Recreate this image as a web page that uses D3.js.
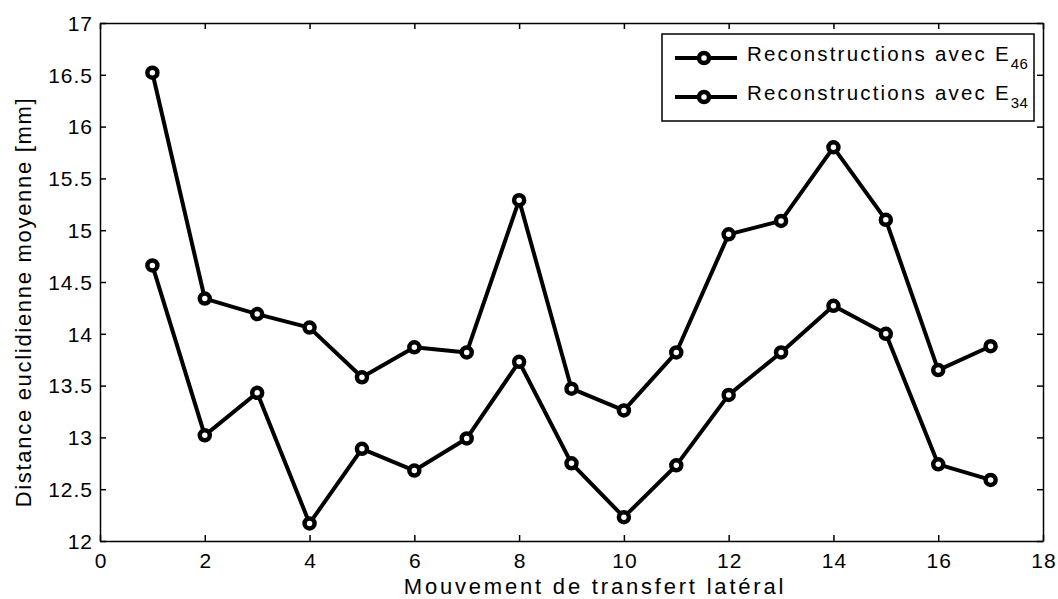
<!DOCTYPE html>
<html><head><meta charset="utf-8">
<script src="https://cdn.jsdelivr.net/npm/d3@7"></script>
<style>
body{margin:0;background:#fff;}
text{font-family:"Liberation Sans",Arial,Helvetica,sans-serif;fill:#000;}
</style></head>
<body>
<svg id="chart" width="1058" height="599"></svg>
<script>
const xValues = [1,2,3,4,5,6,7,8,9,10,11,12,13,14,15,16,17];
const seriesE46 = [16.52,14.34,14.19,14.06,13.58,13.87,13.82,15.29,13.47,13.26,13.82,14.96,15.09,15.80,15.10,13.65,13.88];
const seriesE34 = [14.66,13.02,13.43,12.17,12.89,12.68,12.99,13.73,12.75,12.23,12.73,13.41,13.82,14.27,14.00,12.74,12.59];
const seriesNames = ["Reconstructions avec E", "Reconstructions avec E"];
const seriesSubs = ["46", "34"];
const xTicks = [0,2,4,6,8,10,12,14,16,18];
const yTicks = [12,12.5,13,13.5,14,14.5,15,15.5,16,16.5,17];
const xLabel = "Mouvement de transfert latéral";
const yLabel = "Distance euclidienne moyenne [mm]";

const svg = d3.select("#chart");
const L = 100, R = 1043, T = 23, B = 541;
const x = d3.scaleLinear().domain([0,18]).range([L,R]);
const y = d3.scaleLinear().domain([12,17]).range([B,T]);

const axisW = 1.5, tickLen = 6;
const gB = svg.append("g").attr("transform",`translate(0,${B})`)
  .call(d3.axisBottom(x).tickValues(xTicks).tickSizeInner(-tickLen).tickSizeOuter(0).tickPadding(12).tickFormat(d3.format("d")));
const gT = svg.append("g").attr("transform",`translate(0,${T})`)
  .call(d3.axisTop(x).tickValues(xTicks).tickSizeInner(-tickLen).tickSizeOuter(0).tickFormat(""));
const gL = svg.append("g").attr("transform",`translate(${L},0)`)
  .call(d3.axisLeft(y).tickValues(yTicks).tickSizeInner(-tickLen).tickSizeOuter(0).tickPadding(7).tickFormat(d => String(d)));
const gR = svg.append("g").attr("transform",`translate(${R},0)`)
  .call(d3.axisRight(y).tickValues(yTicks).tickSizeInner(-tickLen).tickSizeOuter(0).tickFormat(""));
[gB,gT,gL,gR].forEach(g=>{
  g.select(".domain").attr("stroke","#000").attr("stroke-width",axisW);
  g.selectAll(".tick line").attr("stroke","#000").attr("stroke-width",1.5);
  g.selectAll("text").attr("font-size",21).style("letter-spacing","1px")
    .style("font-family",'"Liberation Sans",Arial,sans-serif');
});
gB.selectAll("text").attr("dy","0.71em").attr("dx","0.5px");
gL.selectAll("text").attr("dy","0.35em");

// axis labels
svg.append("text").attr("x",595).attr("y",594).attr("text-anchor","middle")
  .attr("font-size",22).style("letter-spacing","2.8px").text(xLabel);
svg.append("text").attr("transform",`translate(31,302) rotate(-90)`).attr("text-anchor","middle")
  .attr("font-size",22).style("letter-spacing","1.7px").text(yLabel);

// series
const series = [seriesE46, seriesE34];
const line = d3.line().x((d,i)=>x(xValues[i])).y(d=>y(d));
series.forEach(s=>{
  svg.append("path").datum(s).attr("d",line).attr("fill","none")
    .attr("stroke","#000").attr("stroke-width",4).attr("stroke-linejoin","round");
  svg.selectAll(null).data(s).enter().append("circle")
    .attr("cx",(d,i)=>x(xValues[i])).attr("cy",d=>y(d)).attr("r",5)
    .attr("fill","#fff").attr("stroke","#000").attr("stroke-width",4.5);
});

// legend
const lg = svg.append("g");
lg.append("rect").attr("x",662).attr("y",34).attr("width",372).attr("height",87)
  .attr("fill","#fff").attr("stroke","#000").attr("stroke-width",1.5);
const legY = [58, 97];
seriesNames.forEach((n,i)=>{
  lg.append("line").attr("x1",675).attr("x2",737).attr("y1",legY[i]).attr("y2",legY[i])
    .attr("stroke","#000").attr("stroke-width",4);
  lg.append("circle").attr("cx",704).attr("cy",legY[i]).attr("r",5)
    .attr("fill","#fff").attr("stroke","#000").attr("stroke-width",4.5);
  const t = lg.append("text").attr("x",747).attr("y",legY[i]+3).attr("font-size",20.5)
    .style("letter-spacing","2.2px");
  t.append("tspan").text(n);
  t.append("tspan").attr("font-size",15).attr("dy",8).attr("dx",0).style("letter-spacing","0.5px").text(seriesSubs[i]);
});
</script>
</body></html>
